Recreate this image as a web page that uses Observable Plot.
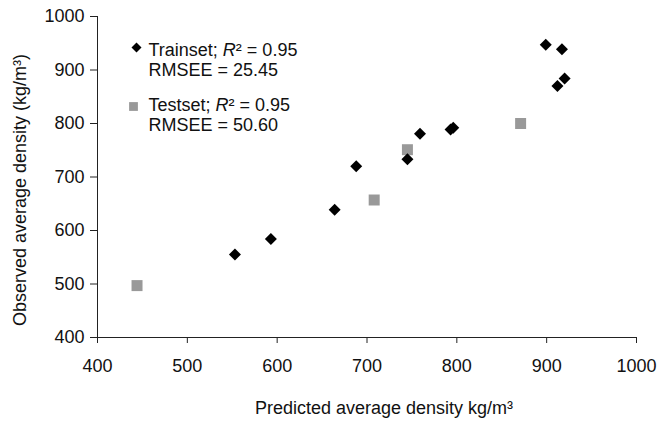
<!DOCTYPE html>
<html>
<head>
<meta charset="utf-8">
<script src="https://cdn.jsdelivr.net/npm/d3@7"></script>
<script src="https://cdn.jsdelivr.net/npm/@observablehq/plot@0.6"></script>
<style>
  html, body { margin: 0; padding: 0; background: #fff; }
</style>
</head>
<body>
<div id="chart"></div>
<script>
// Trainset (predicted, observed)
const trainPredicted = [553, 593, 664, 688, 745, 759, 793, 796, 899, 917, 920, 912];
const trainObserved  = [555, 584, 639, 720, 733, 781, 789, 792, 947, 939, 884, 870];
// Testset (predicted, observed)
const testPredicted = [444, 708, 745, 871];
const testObserved  = [497, 657, 751, 800];

const xTicks = [400, 500, 600, 700, 800, 900, 1000];
const yTicks = [400, 500, 600, 700, 800, 900, 1000];

const legendTrain = "Trainset; R² = 0.95\nRMSEE = 25.45";
const legendTest  = "Testset; R² = 0.95\nRMSEE = 50.60";
const xTitle = "Predicted average density kg/m³";
const yTitle = "Observed average density (kg/m³)";

const train = trainPredicted.map((p, i) => ({p, o: trainObserved[i]}));
const test = testPredicted.map((p, i) => ({p, o: testObserved[i]}));

const font = "'Liberation Sans', Arial, Helvetica, sans-serif";

const chart = Plot.plot({
  width: 661,
  height: 422,
  marginLeft: 97,
  marginRight: 25,
  marginTop: 16,
  marginBottom: 85,
  style: {fontFamily: font, fontSize: "18px", color: "#111", background: "#fff", overflow: "visible"},
  x: {domain: [400, 1000]},
  y: {domain: [400, 1000]},
  marks: [
    Plot.axisX({ticks: xTicks, tickFormat: d => String(d), tickSize: 6, tickPadding: 16, label: null, stroke: "#222", fontSize: 18}),
    Plot.axisY({ticks: yTicks, tickFormat: d => String(d), tickSize: 7, tickPadding: 6, label: null, stroke: "#222", fontSize: 18}),
    Plot.ruleX([400], {stroke: "#222"}),
    Plot.ruleY([400], {stroke: "#222"}),
    Plot.dot(test, {x: "p", y: "o", symbol: "square2", r: 7, fill: "#999", stroke: "none"}),
    Plot.dot(train, {x: "p", y: "o", symbol: "diamond2", r: 5.4, fill: "#000", stroke: "none"}),
    // legend
    Plot.dot([0], {frameAnchor: "top-left", dx: 39, dy: 31, symbol: "diamond2", r: 4.5, fill: "#000", stroke: "none"}),
    Plot.dot([0], {frameAnchor: "top-left", dx: 36, dy: 90, symbol: "square2", r: 5.6, fill: "#999", stroke: "none"}),
    Plot.text([legendTrain], {frameAnchor: "top-left", text: d => d, dx: 51, dy: 26, lineAnchor: "top", lineHeight: 1.08, textAnchor: "start", fontSize: 18, fill: "#111"}),
    Plot.text([legendTest], {frameAnchor: "top-left", text: d => d, dx: 51, dy: 81, lineAnchor: "top", lineHeight: 1.08, textAnchor: "start", fontSize: 18, fill: "#111"}),
    // axis titles
    Plot.text([xTitle], {frameAnchor: "bottom", text: d => d, dx: 17, dy: 76, lineAnchor: "bottom", textAnchor: "middle", fontSize: 18, fill: "#111"}),
    Plot.text([yTitle], {frameAnchor: "left", text: d => d, dx: -72, dy: 13, rotate: -90, lineAnchor: "bottom", textAnchor: "middle", fontSize: 18, fill: "#111"})
  ]
});

// italicize the R in "R²"
d3.select(chart).selectAll("tspan, text").each(function() {
  if (this.childElementCount) return;
  const t = this.textContent;
  const idx = t.indexOf("R²");
  if (idx < 0) return;
  const before = t.slice(0, idx), after = t.slice(idx + 1);
  this.textContent = "";
  this.appendChild(document.createTextNode(before));
  const r = document.createElementNS("http://www.w3.org/2000/svg", "tspan");
  r.setAttribute("font-style", "italic");
  r.textContent = "R";
  this.appendChild(r);
  this.appendChild(document.createTextNode(after));
});

document.getElementById("chart").appendChild(chart);
</script>
</body>
</html>
